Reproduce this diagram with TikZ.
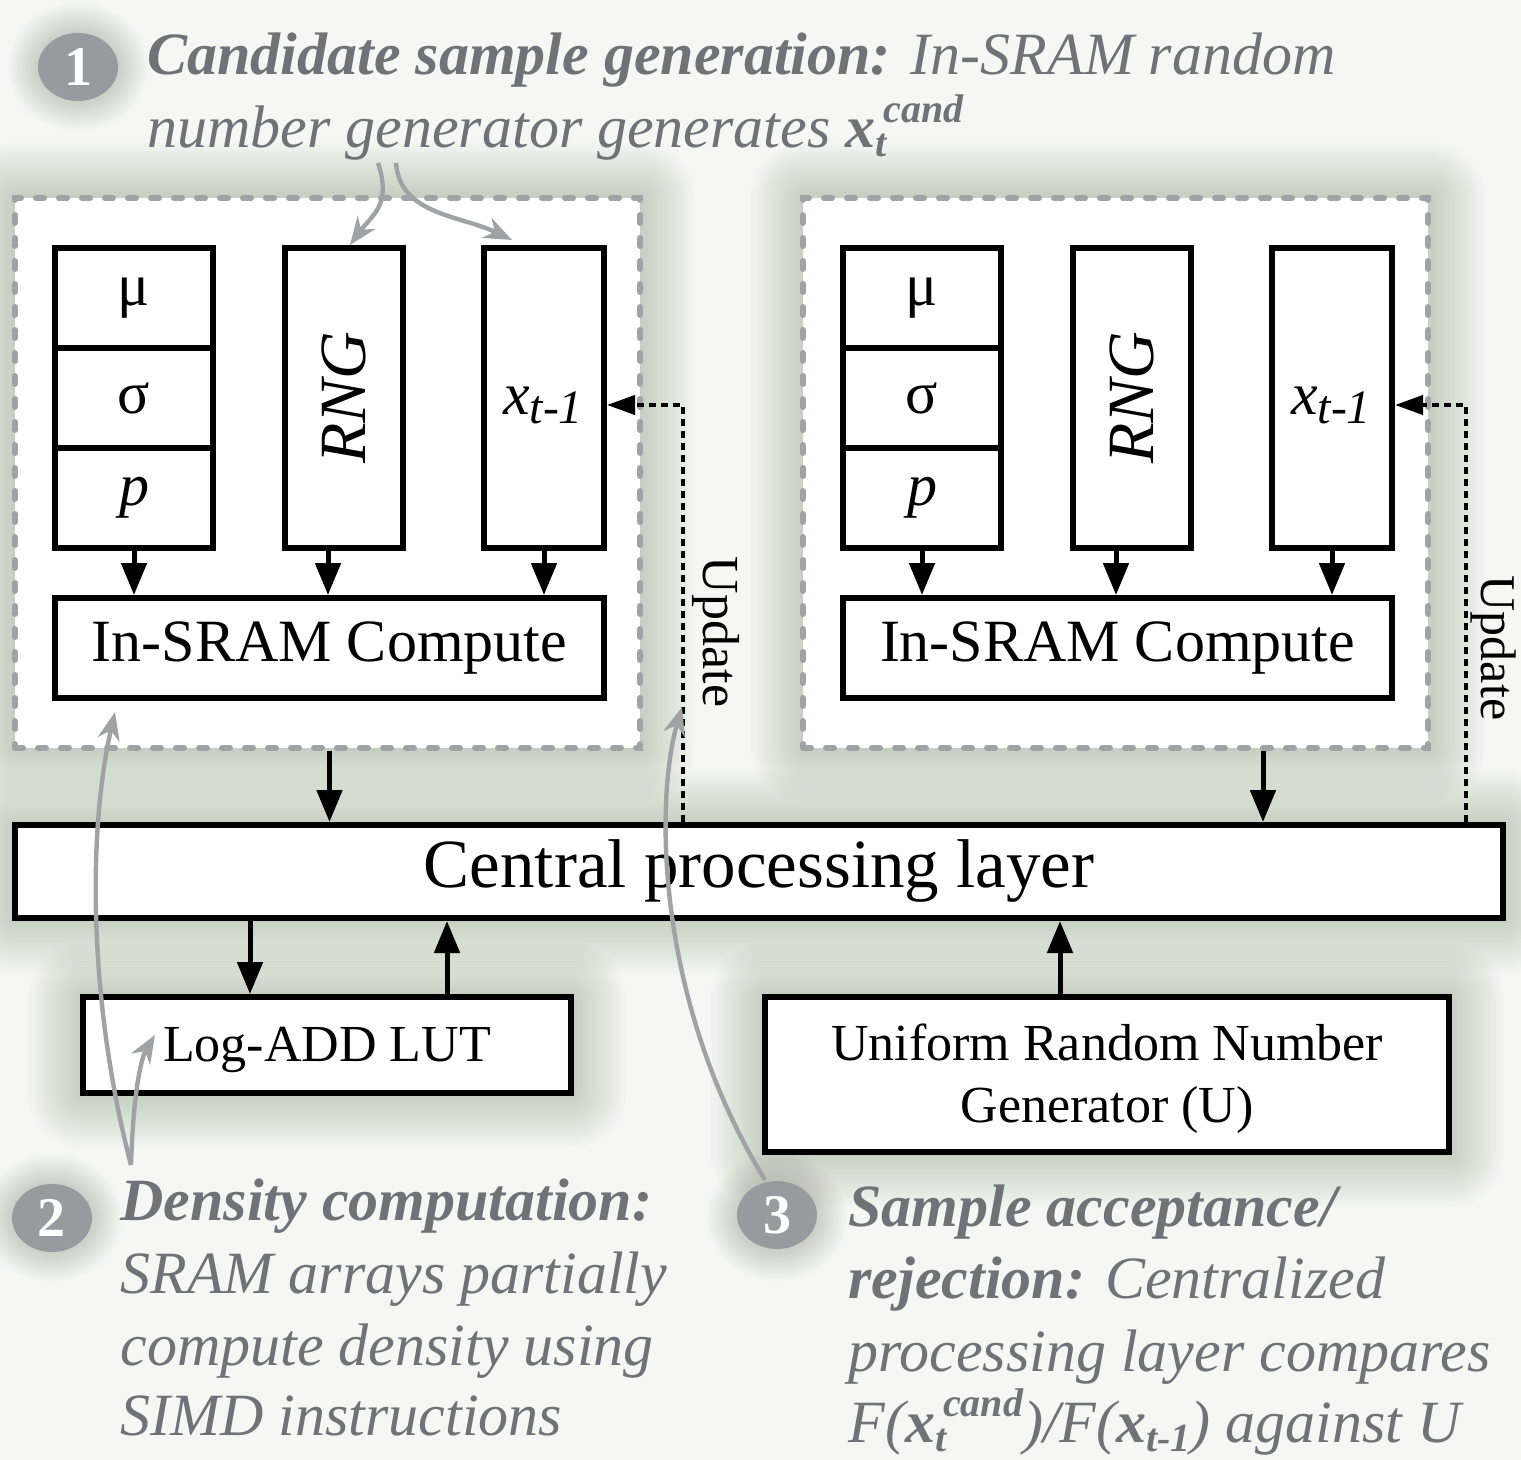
\documentclass[tikz,border=0pt]{standalone}
\usepackage{fontspec}
\setmainfont{Liberation Serif}
\usetikzlibrary{arrows.meta,shapes.geometric}

\definecolor{bgc}{RGB}{246,247,244}
\definecolor{glowc}{RGB}{140,160,130}
\definecolor{dashc}{RGB}{160,162,166}
\definecolor{annc}{RGB}{112,114,120}
\definecolor{badgec}{RGB}{152,154,159}
\definecolor{pointc}{RGB}{160,162,166}

% soft halo round a rectangle: x1 y1 x2 y2 spread opacity
\newcommand\glowrect[6]{%
  \foreach \k in {1,...,20}{%
    \pgfmathsetmacro\dd{\k*#5/20}%
    \fill[glowc, fill opacity=#6, rounded corners=\dd*0.5pt]
      (#1-\dd, #2-\dd) rectangle (#3+\dd, #4+\dd);
  }}
% soft halo round an ellipse: cx cy rx ry spread opacity
\newcommand\glowell[6]{%
  \foreach \k in {1,...,20}{%
    \pgfmathsetmacro\dd{\k*#5/20}%
    \fill[glowc, fill opacity=#6] (#1,#2) ellipse [x radius=#3+\dd, y radius=#4+\dd];
  }}

% small raised / lowered pieces of text
\newcommand\lowtxt[2]{\raisebox{-0.15em}{\fontsize{#1}{#1}\selectfont #2}}
\newcommand\hightxt[2]{\raisebox{0.42em}{\fontsize{#1}{#1}\selectfont #2}}
\newcommand\xcand{\textbf{x}\lowtxt{20}{\textbf{t}}\kern-0.05em\hightxt{20}{\textbf{cand}}}

\begin{document}
\begin{tikzpicture}[x=0.5pt,y=-0.5pt,
  blk/.style={draw=black, line width=3pt, fill=white, inner sep=0pt},
  grp/.style={draw=dashc, line width=3pt, dash pattern=on 4pt off 7.5pt,
              line cap=round, fill=white, inner sep=0pt},
  arr/.style={line width=2.5pt, -{Triangle[length=16pt,width=12.5pt]}},
  upd/.style={line width=2pt, dash pattern=on 3.5pt off 2.5pt,
              -{Triangle[length=14pt,width=9.5pt]}},
  ptr/.style={draw=pointc, line width=2.2pt, -{Stealth[length=14pt,width=11pt]}},
  lbl/.style={font=\fontsize{30}{36}\selectfont},
  midlbl/.style={font=\fontsize{26}{31}\selectfont},
  ann/.style={font=\fontsize{30}{36}\selectfont\itshape, text=annc, inner sep=0pt, anchor=base west},
  badge/.style={ellipse, fill=badgec, inner sep=0pt, minimum width=40pt, minimum height=34pt,
                text=white, font=\fontsize{28}{28}\selectfont\bfseries},
  plain/.style={inner sep=0pt}
]
\useasboundingbox (0,0) rectangle (1521,1460);
\fill[bgc] (0,0) rectangle (1521,1460);

% halos
\glowell{78}{67}{40}{34}{30}{0.02}
\glowell{52}{1218}{40}{34}{30}{0.02}
\glowell{777}{1217}{40}{34}{30}{0.02}
\glowrect{15}{198}{640}{748}{55}{0.022}
\glowrect{805}{198}{1430}{748}{55}{0.022}
\glowrect{15}{825}{1503}{918}{55}{0.022}
\glowrect{83}{997}{571}{1093}{55}{0.022}
\glowrect{765}{997}{1449}{1152}{55}{0.022}

% two in-SRAM sampler arrays
\foreach \g/\dx in {L/0,R/788}{
  \node[grp, minimum width=312.5pt, minimum height=275pt] (grp\g) at (327.5+\dx,473) {};
  \node[blk, lbl, minimum width=79pt, minimum height=50pt] (mu\g) at (134+\dx,298) {μ};
  \node[blk, lbl, minimum width=79pt, minimum height=50pt] (sg\g) at (134+\dx,398) {σ};
  \node[blk, lbl, minimum width=79pt, minimum height=50pt] (p\g) at (134+\dx,498) {\textit{p}};
  \node[blk, minimum width=59pt, minimum height=150pt] (rng\g) at (344+\dx,398) {};
  \node[plain, rotate=90, font=\fontsize{33}{33}\selectfont\itshape] (rngt\g) at (rng\g) {RNG};
  \node[blk, minimum width=60pt, minimum height=150pt] (x\g) at (544+\dx,398) {};
  \node[plain, lbl] (xt\g) at (543+\dx,405) {\textit{x}\lowtxt{24}{\textit{t-1}}};
  \node[blk, lbl, minimum width=274.5pt, minimum height=50pt] (comp\g) at (329.5+\dx,648) {In-SRAM Compute};
  \draw[arr] (p\g.south) -- (p\g.south |- comp\g.north);
  \draw[arr] ([xshift=-8pt]rng\g.south) -- ([xshift=-8pt]rng\g.south |- comp\g.north);
  \draw[arr] (x\g.south) -- (x\g.south |- comp\g.north);
}

% central layer and its neighbours
\node[blk, minimum width=744pt, minimum height=46.5pt, font=\fontsize{34.5}{40}\selectfont]
  (cpl) at (759,871.5) {Central processing layer};
\node[blk, minimum width=244pt, minimum height=48pt] (lut) at (327,1045) {};
\node[plain, midlbl, anchor=base] (lutt) at (327,1061) {Log-ADD LUT};
\node[blk, minimum width=342pt, minimum height=77.5pt] (urng) at (1107,1074.5) {};
\node[plain, midlbl, anchor=base] (urng1) at (1107,1060) {Uniform Random Number};
\node[plain, midlbl, anchor=base] (urng2) at (1107,1122) {Generator (U)};

\draw[arr] ([xshift=1pt]grpL.south) -- ([xshift=1pt]grpL.south |- cpl.north);
\draw[arr] ([xshift=73.75pt]grpR.south) -- ([xshift=73.75pt]grpR.south |- cpl.north);
\draw[arr] ([xshift=-38.5pt]lut.north |- cpl.south) -- ([xshift=-38.5pt]lut.north);
\draw[arr] ([xshift=60pt]lut.north) -- ([xshift=60pt]lut.north |- cpl.south);
\draw[arr] ([xshift=-23.5pt]urng.north) -- ([xshift=-23.5pt]urng.north |- cpl.south);

% update feedback
\coordinate (updL) at (683,405);
\coordinate (updR) at (1466,405);
\draw[upd] (updL |- cpl.north) -- (updL) -- (updL -| xL.east);
\draw[upd] (updR |- cpl.north) -- (updR) -- (updR -| xR.east);
\node[plain, rotate=-90, font=\fontsize{26}{26}\selectfont] (updtL) at (716,632) {Update};
\node[plain, rotate=-90, font=\fontsize{25}{25}\selectfont] (updtR) at (1494,648) {Update};

% step annotations
\node[badge] (b1) at (78,67) {1};
\node[ann] (a1l1) at (147,75) {\textbf{Candidate sample generation:} In-SRAM random};
\node[ann] (a1l2) at (147,148) {number generator generates \xcand};

\node[badge] (b2) at (52,1218) {2};
\node[ann] (a2l1) at (120,1220) {\textbf{Density computation:}};
\node[ann] (a2l2) at (120,1293) {SRAM arrays partially};
\node[ann] (a2l3) at (120,1365) {compute density using};
\node[ann] (a2l4) at (120,1435) {SIMD instructions};

\node[badge] (b3) at (777,1215) {3};
\node[ann] (a3l1) at (848,1226) {\textbf{Sample acceptance/}};
\node[ann] (a3l2) at (848,1298) {\textbf{rejection:} Centralized};
\node[ann] (a3l3) at (848,1371) {processing layer compares};
\node[ann] (a3l4) at (848,1442) {F(\xcand)/F(\textbf{x}\lowtxt{20}{\textbf{t-1}}) against U};

% pointers from the annotations
\coordinate (p1s) at (378,163);
\coordinate (p1t) at (396,163);
\coordinate (p2s) at (131,1165);
\coordinate (p3s) at (765,1180);
\draw[ptr] (p1s) .. controls (392,205) and (372,215) .. ([xshift=3pt]rngL.north);
\draw[ptr] (p1t) .. controls (400,215) and (460,215) .. (512,240);
\draw[ptr] (p2s) .. controls (88,1000) and (88,830) .. (115,712);
\draw[ptr] (p2s) .. controls (133,1100) and (140,1060) .. (155,1035);
\draw[ptr] (p3s) .. controls (655,1000) and (655,800) .. (682,707);
\end{tikzpicture}
\end{document}
